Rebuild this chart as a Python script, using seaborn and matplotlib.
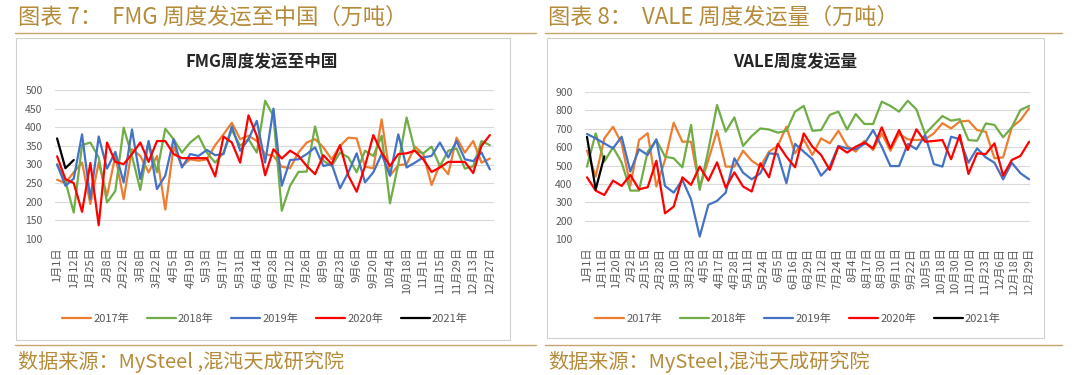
import numpy as np
import pandas as pd
import matplotlib.pyplot as plt
import seaborn as sns
from matplotlib.patches import Rectangle
from matplotlib.lines import Line2D

YEARS = ["2017年", "2018年", "2019年", "2020年", "2021年"]
COLORS = ["#ED7D31", "#70AD47", "#4472C4", "#FF0000", "#000000"]

# FMG: weekly categories, every other one labelled
FMG_WEEKS = ["1月1日", "1月6日", "1月12日", "1月18日", "1月25日", "2月1日", "2月8日", "2月15日", "2月22日",
             "3月1日", "3月8日", "3月15日", "3月22日", "3月29日", "4月5日", "4月12日", "4月19日", "4月26日",
             "5月3日", "5月10日", "5月17日", "5月24日", "5月31日", "6月7日", "6月14日", "6月21日", "6月28日",
             "7月5日", "7月12日", "7月19日", "7月26日", "8月2日", "8月9日", "8月16日", "8月23日", "8月30日",
             "9月6日", "9月13日", "9月20日", "9月27日", "10月4日", "10月11日", "10月18日", "10月25日",
             "11月1日", "11月8日", "11月15日", "11月22日", "11月29日", "12月6日", "12月13日", "12月20日", "12月27日"]

fmg_2017 = [259, 250, 279, 305, 194, 305, 216, 323, 207, 341, 323, 279, 323, 179, 348, 296, 314, 310, 314, 352,
            381, 412, 368, 377, 363, 328, 323, 294, 290, 332, 359, 368, 346, 314, 350, 372, 370, 294, 290, 421,
            270, 298, 301, 348, 328, 245, 301, 274, 372, 332, 363, 305, 316]
fmg_2018 = [300, 255, 171, 352, 359, 319, 198, 229, 399, 323, 232, 359, 279, 396, 368, 332, 359, 377, 332, 305,
            332, 393, 350, 368, 332, 471, 430, 176, 243, 280, 281, 402, 310, 296, 332, 319, 279, 337, 323, 377,
            196, 301, 426, 337, 330, 348, 295, 337, 343, 289, 295, 363, 352]
fmg_2019 = [300, 243, 262, 381, 207, 375, 289, 334, 252, 394, 261, 363, 234, 270, 368, 292, 328, 323, 339, 325,
            328, 402, 337, 368, 417, 305, 450, 243, 312, 314, 328, 346, 296, 301, 236, 279, 330, 252, 279, 328,
            270, 381, 292, 305, 319, 323, 359, 319, 363, 314, 309, 332, 287]
fmg_2020 = [322, 261, 250, 173, 304, 137, 359, 307, 301, 328, 359, 307, 363, 363, 328, 317, 317, 317, 317, 268,
            375, 359, 305, 432, 377, 271, 341, 316, 337, 323, 296, 274, 325, 301, 352, 270, 227, 296, 379, 332,
            296, 328, 330, 337, 314, 280, 292, 307, 307, 307, 277, 350, 379]
fmg_2021 = [370, 290, 312]

# VALE: 52 weekly points, 31 date labels spread along the axis
VALE_LABELS = ["1月1日", "1月11日", "1月20日", "2月2日", "2月15日", "2月28日", "3月10日", "3月23日", "4月5日",
               "4月17日", "4月28日", "5月11日", "5月24日", "6月5日", "6月16日", "6月29日", "7月12日", "7月24日",
               "8月4日", "8月17日", "8月30日", "9月11日", "9月22日", "10月5日", "10月18日", "10月30日",
               "11月10日", "11月23日", "12月6日", "12月18日", "12月29日"]

vale_2017 = [580, 440, 647, 710, 620, 390, 638, 675, 386, 530, 732, 629, 629, 380, 530, 688, 494, 494, 580, 526,
             494, 575, 606, 710, 566, 642, 557, 647, 620, 688, 606, 575, 634, 584, 674, 580, 671, 642, 638, 642,
             674, 729, 701, 738, 743, 692, 683, 539, 544, 707, 746, 810]
vale_2018 = [494, 674, 521, 599, 516, 364, 364, 575, 638, 548, 539, 490, 720, 368, 584, 828, 684, 761, 606, 660,
             701, 695, 678, 688, 792, 823, 688, 692, 774, 792, 695, 779, 725, 725, 846, 823, 792, 851, 804, 671,
             720, 768, 743, 751, 638, 634, 728, 720, 653, 707, 801, 823]
vale_2019 = [671, 647, 620, 593, 656, 467, 588, 557, 642, 389, 353, 422, 317, 115, 287, 308, 353, 539, 461, 425,
             458, 566, 561, 404, 617, 575, 534, 445, 494, 606, 593, 588, 617, 692, 602, 497, 497, 617, 588, 666,
             508, 494, 656, 642, 515, 593, 544, 515, 425, 515, 458, 425]
vale_2020 = [436, 364, 340, 418, 389, 449, 371, 382, 526, 241, 277, 436, 395, 494, 418, 517, 380, 463, 386, 359,
             512, 436, 617, 548, 490, 674, 602, 557, 476, 602, 570, 602, 624, 593, 707, 593, 692, 584, 696, 629,
             633, 638, 534, 666, 454, 566, 562, 620, 445, 530, 552, 629]
vale_2021 = [655, 370, 550]

GOLD = "#B58B3A"
GRAY = "#595959"

sns.set_theme(style="white")
plt.rcParams["font.family"] = ["Noto Sans CJK SC", "DejaVu Sans"]


def to_long(series):
    frames = []
    for year, vals in zip(YEARS, series):
        frames.append(pd.DataFrame({"week": np.arange(len(vals)), "value": vals, "year": year}))
    return pd.concat(frames, ignore_index=True)


def draw_panel(ax, series, yticks, xlim, tick_pos, tick_labels, legend_x):
    df = to_long(series)
    sns.lineplot(data=df, x="week", y="value", hue="year", hue_order=YEARS, palette=COLORS,
                 linewidth=1.6, ax=ax)
    ax.set_ylim(yticks[0], yticks[-1])
    ax.set_yticks(yticks)
    ax.set_xlim(*xlim)
    ax.set_xticks(tick_pos)
    ax.set_xticklabels(tick_labels, rotation=90, fontsize=8, color=GRAY)
    ax.tick_params(axis="y", labelsize=7.5, labelcolor=GRAY, length=0, pad=9)
    ax.tick_params(axis="x", length=0, pad=6)
    ax.grid(axis="y", color="#D9D9D9", linewidth=0.8)
    ax.grid(axis="x", visible=False)
    ax.set_axisbelow(True)
    ax.set_xlabel("")
    ax.set_ylabel("")
    for sp in ax.spines.values():
        sp.set_visible(False)
    handles, labels = ax.get_legend_handles_labels()
    ax.legend(handles, labels, loc="center", bbox_to_anchor=(legend_x, 1 - 319 / 375),
              bbox_transform=ax.figure.transFigure, ncol=5, frameon=False, fontsize=8,
              handlelength=2.6, handletextpad=0.2, columnspacing=1.6, labelcolor=GRAY)


W, H = 1075, 375
fig = plt.figure(figsize=(W / 100, H / 100), dpi=100)

axL = fig.add_axes([55 / W, 1 - 239 / H, (494 - 55) / W, (239 - 90) / H])
n_fmg = len(FMG_WEEKS)
draw_panel(axL, [fmg_2017, fmg_2018, fmg_2019, fmg_2020, fmg_2021],
           list(range(100, 501, 50)), (-0.25, n_fmg - 0.5),
           list(range(0, n_fmg, 2)), FMG_WEEKS[::2], 265 / W)

axR = fig.add_axes([585 / W, 1 - 239.3 / H, (1030 - 585) / W, (239.3 - 91.7) / H])
n_vale = len(vale_2017)
draw_panel(axR, [vale_2017, vale_2018, vale_2019, vale_2020, vale_2021],
           list(range(100, 901, 100)), (-0.23, n_vale - 0.9),
           np.linspace(0, n_vale - 1, len(VALE_LABELS)), VALE_LABELS, 798 / W)

# chart frames
for x0, x1, y0, y1 in [(16, 510, 38, 340), (547, 1044, 38, 338)]:
    fig.add_artist(Rectangle((x0 / W, 1 - y1 / H), (x1 - x0) / W, (y1 - y0) / H,
                             transform=fig.transFigure, fill=False, edgecolor="#D0D0D0", linewidth=0.8))

# chart titles
fig.text(262 / W, 1 - 62 / H, "FMG周度发运至中国", ha="center", va="center", fontsize=12, fontweight="bold")
fig.text(795 / W, 1 - 62 / H, "VALE周度发运量", ha="center", va="center", fontsize=12, fontweight="bold")

# headers, rules and footers
fig.text(18 / W, 1 - 17 / H, "图表 7：  FMG 周度发运至中国（万吨）", fontsize=16, color=GOLD, va="center")
fig.text(548 / W, 1 - 17 / H, "图表 8：  VALE 周度发运量（万吨）", fontsize=16, color=GOLD, va="center")
fig.text(18 / W, 1 - 362 / H, "数据来源：MySteel ,混沌天成研究院", fontsize=14.5, color=GOLD, va="center")
fig.text(548 / W, 1 - 362 / H, "数据来源：MySteel,混沌天成研究院", fontsize=14.5, color=GOLD, va="center")
for x0, x1 in [(15, 536), (545, 1062)]:
    for y in (33, 345):
        fig.add_artist(Line2D([x0 / W, x1 / W], [1 - y / H, 1 - y / H], transform=fig.transFigure,
                              color="#C5A46D", linewidth=1.0))

fig.savefig("out.png", dpi=100)
